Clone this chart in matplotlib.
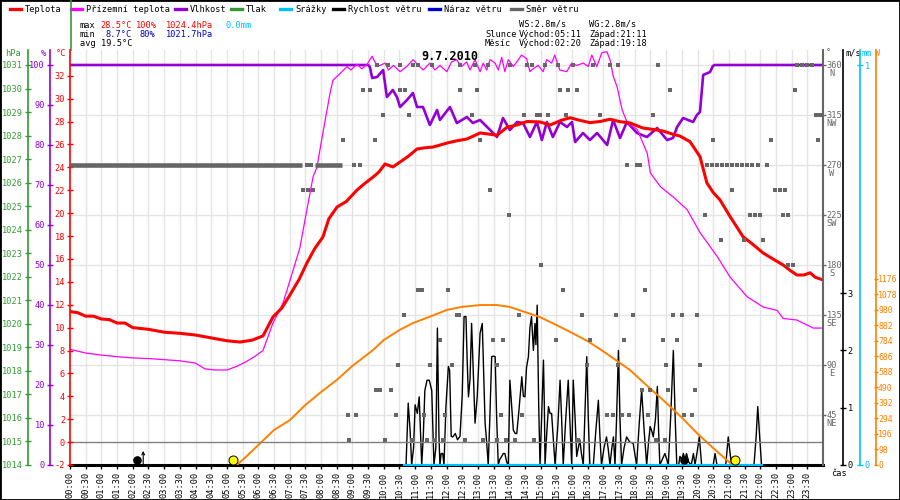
import matplotlib
matplotlib.use("Agg")
import matplotlib.pyplot as plt
import matplotlib.transforms as mtransforms
from matplotlib.lines import Line2D
from matplotlib.patches import Rectangle

plt.rcParams['font.family'] = ['DejaVu Sans Mono', 'DejaVu Sans']

# ---------------- data (hours, value) ----------------
temperature = [(0.0, 11.4), (0.25, 11.3), (0.5, 11.0), (0.75, 11.0), (1.0, 10.75), (1.25, 10.7),
               (1.5, 10.4), (1.75, 10.4), (2.0, 10.0), (2.5, 9.85), (3.0, 9.6), (3.5, 9.5),
               (4.0, 9.35), (4.5, 9.1), (5.0, 8.85), (5.42, 8.74), (5.8, 8.9), (6.15, 9.27),
               (6.47, 10.93), (6.75, 11.7), (7.01, 12.85), (7.3, 14.2), (7.55, 15.64), (7.8, 16.9),
               (8.06, 17.91), (8.25, 19.5), (8.51, 20.53), (8.8, 21.0), (9.15, 22.02), (9.4, 22.6),
               (9.66, 23.15), (9.85, 23.6), (10.04, 24.29), (10.29, 24.03), (10.52, 24.46),
               (10.8, 25.0), (11.06, 25.6), (11.3, 25.7), (11.57, 25.77), (12.02, 26.12),
               (12.3, 26.3), (12.65, 26.47), (13.07, 27.0), (13.35, 26.9), (13.61, 26.8),
               (13.93, 27.5), (14.25, 27.7), (14.57, 28.0), (14.98, 27.96), (15.3, 27.69),
               (15.65, 28.1), (15.94, 28.33), (16.25, 28.1), (16.57, 27.9), (16.9, 28.0),
               (17.21, 28.2), (17.5, 28.0), (17.85, 27.87), (18.26, 27.43), (18.6, 27.3),
               (18.9, 27.17), (19.2, 26.9), (19.44, 26.73), (19.76, 26.24), (20.08, 24.93),
               (20.3, 22.63), (20.5, 21.8), (20.72, 21.14), (21.04, 19.69), (21.25, 18.8),
               (21.45, 17.94), (21.75, 17.3), (22.09, 16.52), (22.4, 16.0), (22.73, 15.47),
               (22.95, 15.0), (23.17, 14.59), (23.4, 14.6), (23.59, 14.79), (23.75, 14.4),
               (24.0, 14.16)]

apparent_temp = [(0.0, 8.1), (0.5, 7.78), (1.0, 7.6), (1.5, 7.46), (2.0, 7.35), (2.5, 7.3),
                 (3.0, 7.2), (3.5, 7.1), (4.0, 6.9), (4.3, 6.4), (4.6, 6.3), (5.0, 6.3),
                 (5.3, 6.6), (5.6, 7.0), (5.9, 7.5), (6.15, 8.0), (6.47, 10.4), (6.79, 12.15),
                 (7.11, 15.0), (7.33, 17.0), (7.55, 20.3), (7.75, 23.2), (7.87, 24.0),
                 (8.06, 27.0), (8.29, 30.5), (8.38, 31.6), (8.61, 32.2), (8.83, 32.8),
                 (8.95, 32.5), (9.15, 33.0), (9.3, 32.6), (9.47, 33.0), (9.63, 33.7),
                 (9.79, 32.8), (9.88, 32.9), (10.04, 33.1), (10.15, 32.5), (10.31, 32.9),
                 (10.52, 32.35), (10.73, 32.8), (10.94, 33.4), (11.10, 32.9), (11.26, 32.5),
                 (11.47, 33.1), (11.63, 32.5), (11.79, 32.9), (12.01, 32.35), (12.16, 33.2),
                 (12.32, 33.4), (12.48, 32.8), (12.64, 33.2), (12.75, 32.5), (12.91, 33.4),
                 (13.07, 32.35), (13.17, 33.1), (13.28, 32.5), (13.39, 33.4), (13.55, 33.1),
                 (13.65, 32.5), (13.76, 33.6), (13.86, 32.35), (13.97, 33.4), (14.13, 32.8),
                 (14.29, 33.4), (14.39, 33.8), (14.55, 33.5), (14.66, 32.35), (14.76, 32.6),
                 (14.92, 32.9), (15.08, 32.35), (15.19, 33.4), (15.35, 33.1), (15.45, 33.8),
                 (15.61, 32.5), (15.83, 32.35), (15.99, 33.1), (16.15, 32.9), (16.36, 33.1),
                 (16.52, 32.8), (16.63, 33.8), (16.79, 32.8), (16.95, 34.0), (17.11, 34.1),
                 (17.21, 33.4), (17.32, 31.9), (17.44, 31.0), (17.6, 29.0), (17.76, 27.9),
                 (18.08, 27.3), (18.4, 25.2), (18.5, 23.5), (18.82, 22.3), (19.23, 21.4),
                 (19.67, 20.3), (20.08, 18.3), (20.63, 16.2), (21.04, 14.4), (21.58, 12.7),
                 (22.09, 11.8), (22.54, 11.5), (22.73, 10.8), (23.17, 10.66), (23.69, 9.96),
                 (24.0, 9.96)]

humidity = [(0.0, 100), (9.50, 100), (9.56, 99.5), (9.63, 96.75), (9.79, 97), (9.98, 98.75),
            (10.10, 92), (10.29, 93.75), (10.42, 92), (10.52, 89.5), (10.74, 91.25),
            (10.93, 93), (11.06, 89.5), (11.25, 89.5), (11.47, 85), (11.70, 88.75),
            (11.79, 86.25), (12.11, 89.5), (12.33, 85.5), (12.65, 87), (12.84, 85.5),
            (13.07, 86.25), (13.39, 83.75), (13.61, 82), (13.80, 86.75), (14.02, 83.75),
            (14.25, 85.75), (14.44, 85.5), (14.66, 82), (14.88, 85.75), (15.04, 81.25),
            (15.20, 85.75), (15.39, 82), (15.62, 85.75), (15.84, 84.5), (16.00, 85.75),
            (16.10, 80.75), (16.35, 83), (16.57, 81.25), (16.80, 83), (17.12, 80),
            (17.31, 86.25), (17.53, 81.75), (17.75, 85.75), (18.07, 83), (18.39, 82),
            (18.71, 84.25), (19.03, 81.25), (19.22, 81.75), (19.35, 84.5), (19.54, 86.75),
            (19.86, 85.75), (19.98, 87.5), (20.08, 88.25), (20.18, 97.5), (20.40, 98.25),
            (20.49, 99.75), (20.55, 100), (24.0, 100)]

wind_speed = [(10.65, 0), (10.71, 0), (10.78, 1.08), (10.84, 0.6), (10.89, 0), (10.95, 0.3),
              (11.00, 1.05), (11.07, 0.9), (11.13, 1.19), (11.21, 0), (11.26, 0.5), (11.31, 1.3),
              (11.38, 1.48), (11.45, 1.48), (11.53, 1.3), (11.60, 0), (11.66, 0.3), (11.71, 2.39),
              (11.76, 0.5), (11.79, 0), (11.83, 0.2), (11.88, 0.2), (11.92, 0), (11.98, 1.0),
              (12.06, 1.72), (12.10, 1.65), (12.15, 0.5), (12.20, 0.49), (12.28, 0.55),
              (12.35, 0.44), (12.43, 0.5), (12.50, 1.2), (12.56, 2.59), (12.62, 2.59),
              (12.66, 1.8), (12.70, 1.19), (12.75, 1.5), (12.80, 2.47), (12.86, 1.5),
              (12.91, 0.73), (12.98, 1.2), (13.07, 2.30), (13.14, 2.47), (13.19, 1.5),
              (13.23, 0.73), (13.28, 0.4), (13.33, 0), (13.38, 0.8), (13.44, 1.89), (13.50, 1.9),
              (13.55, 1.89), (13.60, 0.8), (13.65, 0), (13.70, 0.1), (13.76, 0.15), (13.81, 0.2),
              (13.86, 0.2), (13.92, 0.05), (13.97, 0), (14.02, 1.48), (14.08, 1.0), (14.13, 0.61),
              (14.19, 0.55), (14.24, 0.55), (14.30, 0.9), (14.40, 1.54), (14.45, 1.2),
              (14.50, 1.19), (14.55, 1.7), (14.61, 1.89), (14.66, 2.4), (14.71, 2.59),
              (14.77, 2.0), (14.82, 2.47), (14.85, 2.1), (14.89, 2.79), (14.94, 1.0), (14.98, 0),
              (15.03, 0.8), (15.09, 1.83), (15.12, 1.0), (15.14, 0), (15.20, 0.6), (15.25, 1.02),
              (15.30, 0.9), (15.35, 0.9), (15.40, 0.5), (15.46, 0), (15.55, 0.7), (15.62, 1.48),
              (15.67, 0.8), (15.72, 0), (15.80, 0.8), (15.88, 1.48), (15.93, 0.8), (15.99, 0),
              (16.04, 1.48), (16.10, 0.8), (16.15, 0.15), (16.20, 0.3), (16.25, 0.44),
              (16.30, 0.2), (16.36, 0), (16.42, 1.0), (16.47, 1.89), (16.52, 0.8), (16.57, 0),
              (16.68, 0), (16.76, 0.6), (16.84, 1.13), (16.89, 0.5), (16.94, 0), (17.02, 0.3),
              (17.10, 0.49), (17.15, 0.3), (17.21, 0), (17.27, 0.3), (17.32, 0.49), (17.37, 0),
              (17.42, 0.8), (17.48, 2.0), (17.53, 0.8), (17.58, 0), (17.66, 0.3), (17.74, 0.49),
              (17.84, 0.4), (17.95, 0.38), (18.00, 0.2), (18.06, 0), (18.14, 0.7), (18.22, 1.31),
              (18.30, 0.6), (18.38, 0), (18.44, 0.4), (18.49, 0.67), (18.54, 0.6), (18.59, 0.49),
              (18.66, 0.8), (18.72, 1.37), (18.76, 0.6), (18.80, 0), (18.88, 0.1), (18.96, 0.2),
              (19.02, 0.1), (19.07, 0), (19.15, 0.9), (19.23, 2.0), (19.29, 0.8), (19.34, 0),
              (19.40, 0), (19.44, 0.15), (19.50, 0.1), (19.55, 0.2), (19.60, 0.1), (19.65, 0.2),
              (19.72, 0.05), (19.80, 0), (19.87, 0.2), (19.92, 0), (19.98, 0.2), (20.06, 0.49),
              (20.13, 0), (20.50, 0), (20.56, 0.2), (20.62, 0), (20.90, 0), (20.98, 0.49),
              (21.04, 0.2), (21.09, 0), (21.80, 0), (21.87, 0.5), (21.92, 1.02), (21.98, 0.5),
              (22.04, 0)]

solar = [(5.32, 0), (5.6, 50), (6.06, 137), (6.5, 221), (7.01, 284), (7.5, 379), (8.0, 461),
         (8.5, 537), (9.0, 626), (9.66, 727), (10.0, 790), (10.5, 853), (10.93, 897),
         (11.5, 940), (12.01, 980), (12.5, 1000), (13.07, 1011), (13.6, 1011), (14.0, 1000),
         (14.5, 967), (14.98, 935), (15.5, 885), (16.0, 835), (16.5, 783), (17.0, 718),
         (17.5, 649), (17.85, 600), (18.4, 500), (18.9, 411), (19.5, 300), (19.98, 202),
         (20.5, 107), (21.04, 13), (21.15, 0)]

rain = [(10.65, 0.0), (22.05, 0.0)]

# wind direction: individual readings per direction row
dir_rows = {
    360.0: [9.79, 10.14, 10.52, 10.93, 11.09, 11.54, 12.43, 12.91, 13.32, 14.02, 14.57, 14.73,
            15.14, 15.55, 16.03, 16.67, 17.21, 17.47, 18.74, 23.17, 23.33, 23.49, 23.65],
    337.5: [9.34, 9.56, 10.52, 10.68, 12.43, 12.97, 15.62, 15.87, 16.16, 19.12, 23.11],
    315.0: [9.98, 10.80, 12.81, 14.47, 14.88, 14.98, 15.24, 15.81, 16.89, 18.58, 23.78, 23.90],
    292.5: [8.70, 9.72, 13.07, 20.49, 22.34, 23.84],
    270.0: [7.55, 7.68, 9.05, 9.24, 17.75, 18.07, 18.17, 20.30, 20.46, 20.62, 20.78, 20.94,
            21.10, 21.26, 21.42, 21.58, 21.74, 21.93, 22.22],
    247.5: [7.43, 7.59, 7.75, 13.39, 21.10, 22.47, 22.63, 22.79],
    225.0: [13.99, 20.24, 21.67, 21.83, 21.99, 22.73, 22.88],
    202.5: [20.75, 21.48, 22.09],
    180.0: [15.01, 22.88, 23.04],
    157.5: [11.09, 11.22, 12.05, 15.71, 18.33],
    135.0: [10.65, 12.33, 12.40, 14.31, 16.32, 17.40, 17.94, 19.22, 19.51, 19.98],
    112.5: [11.79, 13.48, 13.80, 15.49, 16.57, 17.66, 18.90, 19.35],
    90.0: [10.45, 11.47, 12.18, 13.61, 16.48, 17.47, 19.00, 20.08],
    67.5: [9.75, 9.88, 10.23, 18.23, 18.49, 19.06, 19.92],
    45.0: [8.86, 9.12, 10.39, 11.28, 11.95, 13.74, 14.41, 17.12, 17.31, 17.59, 17.82, 18.42,
           19.57, 19.82],
    22.5: [8.89, 10.04, 10.90, 11.38, 11.63, 11.89, 12.59, 13.16, 13.61, 13.90, 14.18, 14.79,
           16.19, 18.68, 18.96],
}
# continuous runs of constant direction (start h, end h, degrees)
dir_runs = [(0.0, 7.39, 270.0), (7.81, 8.67, 270.0)]

sun_events = ["05:11", "21:11"]
moon_events = ["02:20", "19:18"]

time_labels = [f"{h:02d}:{m:02d}" for h in range(24) for m in (0, 30)]
temp_ticks = list(range(-2, 33, 2))
hum_ticks = list(range(0, 101, 10))
pres_ticks = list(range(1014, 1032))
dir_ticks = [45, 90, 135, 180, 225, 270, 315, 360]
dir_names = ['NE', 'E', 'SE', 'S', 'SW', 'W', 'NW', 'N']
wind_ticks = [0, 1, 2, 3]
rain_ticks = [0, 1]
solar_ticks = list(range(0, 1177, 98))

# ---------------- styling ----------------
RED = '#ff0000'
MAG = '#ff00ff'
PUR = '#9400d3'
GRN = '#339933'
CYA = '#00bfff'
BLU = '#0000cc'
GRY = '#666666'
ORG = '#ff8000'
GRID = '#e4e4e4'
FS = 6.2

W, H = 900, 500
fig = plt.figure(figsize=(9, 5), dpi=100)
fig.patch.set_facecolor('white')

def fxp(px):
    return px / W

def fyp(py):
    return 1 - py / H

L, R, T, B = 70, 823, 50, 465
rect = [fxp(L), fyp(B), fxp(R) - fxp(L), fyp(T) - fyp(B)]

PX = 0.72  # points per pixel

def hm(s):
    h, m = s.split(':')
    return int(h) + int(m) / 60.0

def unzip(pts):
    return [p[0] for p in pts], [p[1] for p in pts]

# background axes: grid + time axis
ax_bg = fig.add_axes(rect)
ax_bg.set_xlim(0, 24)
ax_bg.set_ylim(0, 373.5)
for s in ['top', 'left', 'right']:
    ax_bg.spines[s].set_visible(False)
ax_bg.spines['bottom'].set_linewidth(2.2)
ax_bg.spines['bottom'].set_color('black')
ax_bg.set_yticks([])
xt = [i * 0.5 for i in range(48)]
ax_bg.set_xticks(xt)
ax_bg.set_xticklabels(time_labels, rotation=90, fontsize=FS)
ax_bg.tick_params(axis='x', direction='out', length=3, width=1, pad=2)
for x in xt[1:]:
    ax_bg.axvline(x, color=GRID, lw=1, zorder=0)
for d in dir_ticks:
    ax_bg.axhline(d, color=GRID, lw=1, zorder=0)

def make_twin(z):
    a = ax_bg.twinx()
    a.set_zorder(z)
    a.patch.set_visible(False)
    for s in a.spines.values():
        s.set_visible(False)
    a.tick_params(axis='y', which='both', left=False, right=False,
                  labelleft=False, labelright=False)
    return a

def left_axis(a, color, outward, ticks, labels):
    a.yaxis.set_ticks_position('left')
    sp = a.spines['left']
    sp.set_visible(True)
    sp.set_color(color)
    sp.set_linewidth(1.2)
    sp.set_position(('outward', outward))
    a.set_yticks(ticks)
    a.set_yticklabels(labels)
    a.tick_params(axis='y', left=True, labelleft=True, right=False, labelright=False,
                  direction='inout', length=5, width=1, color=color,
                  labelcolor=color, labelsize=FS, pad=1)

def right_axis(a, color, outward, ticks, labels, tickdir='inout', length=5, pad=1, size=FS):
    a.yaxis.set_ticks_position('right')
    sp = a.spines['right']
    sp.set_visible(True)
    sp.set_color(color)
    sp.set_linewidth(1.2)
    sp.set_position(('outward', outward))
    a.set_yticks(ticks)
    a.set_yticklabels(labels)
    a.tick_params(axis='y', right=True, labelright=True, left=False, labelleft=False,
                  direction=tickdir, length=length, width=1, color=color,
                  labelcolor=color, labelsize=size, pad=pad)

# pressure (no data drawn)
ax_p = make_twin(1)
ax_p.set_ylim(1014, 1014 + 415 / 23.53)
left_axis(ax_p, GRN, 42 * PX, pres_ticks, [str(v) for v in pres_ticks])

# wind speed
ax_w = make_twin(2)
ax_w.set_ylim(0, 415 / 57.3)
right_axis(ax_w, 'black', 20 * PX, wind_ticks, [str(v) for v in wind_ticks])
wt, wv = unzip(wind_speed)
ax_w.plot(wt, wv, color='black', lw=1.0)

# solar radiation
ax_s = make_twin(3)
ax_s.set_ylim(0, 415 / 0.1582)
right_axis(ax_s, ORG, 53 * PX, solar_ticks, [str(v) for v in solar_ticks],
           length=3, pad=0, size=5.9)
st, sv = unzip(solar)
ax_s.plot(st, sv, color=ORG, lw=1.4)

# rain
ax_r = make_twin(4)
ax_r.set_ylim(0, 415 / 400)
right_axis(ax_r, CYA, 37 * PX, rain_ticks, [str(v) for v in rain_ticks])
rt, rv = unzip(rain)
ax_r.plot(rt, rv, color=CYA, lw=1.5, clip_on=False)

# humidity
ax_h = make_twin(5)
ax_h.set_ylim(0, 103.75)
left_axis(ax_h, PUR, 20 * PX, hum_ticks, [str(v) for v in hum_ticks])
ht, hv = unzip(humidity)
ax_h.plot(ht, hv, color=PUR, lw=1.9)

# temperature + apparent temperature
ax_t = make_twin(6)
ax_t.set_ylim(-2, -2 + 415 / 11.45)
left_axis(ax_t, RED, 0, temp_ticks, [str(v) for v in temp_ticks])
ax_t.axhline(0, color='#808080', lw=1.0, zorder=1)
at, av = unzip(apparent_temp)
ax_t.plot(at, av, color=MAG, lw=0.9, zorder=2)
tt, tv = unzip(temperature)
ax_t.plot(tt, tv, color=RED, lw=2.2, zorder=3)

# wind direction
ax_d = make_twin(7)
ax_d.set_ylim(0, 373.5)
right_axis(ax_d, GRY, 0, dir_ticks, [str(v) for v in dir_ticks], tickdir='out', length=2, pad=0.5)
ax_d.spines['right'].set_linewidth(1.5)
for (t0, t1, deg) in dir_runs:
    ax_d.hlines(deg, t0, t1, color=GRY, lw=3.3, capstyle='butt')
for deg, times in dir_rows.items():
    ax_d.plot(times, [deg] * len(times), linestyle='none', marker='s',
              markersize=3.4, color=GRY, markeredgewidth=0)
for deg, name in zip(dir_ticks, dir_names):
    ax_d.annotate(name, xy=(1, deg), xycoords=ax_d.get_yaxis_transform(),
                  xytext=(9 * PX, -9 * PX), textcoords='offset points',
                  ha='center', va='center', color=GRY, fontsize=FS, annotation_clip=False)

# sun / moon events
ytr = ax_d.get_xaxis_transform()
for s in sun_events:
    ax_d.plot([hm(s)], [0.012], transform=ytr, marker='o', markersize=6.5,
              markerfacecolor='#ffff00', markeredgecolor='black', markeredgewidth=0.7,
              clip_on=False)
for i, s in enumerate(moon_events):
    off = -6 if i == 0 else 8
    shift = mtransforms.ScaledTranslation(off / 100.0, 0, fig.dpi_scale_trans)
    ax_d.plot([hm(s)], [0.012], transform=ytr + shift, marker='o', markersize=5.2,
              color='black', linestyle='none', clip_on=False)
    if i == 0:
        ax_d.annotate('', xy=(hm(s), 0.034), xycoords=ytr,
                      xytext=(hm(s), 0.0), textcoords=ytr, annotation_clip=False,
                      arrowprops=dict(arrowstyle='->', lw=0.8, color='black',
                                      shrinkA=0, shrinkB=0, mutation_scale=5))

# ---------------- texts ----------------
def ftext(x, y, s, color='black', **kw):
    kw.setdefault('fontsize', FS)
    kw.setdefault('ha', 'left')
    kw.setdefault('va', 'center')
    fig.text(fxp(x), fyp(y), s, color=color, **kw)

legend_items = [(10, 'Teplota', RED), (71, 'Přízemní teplota', MAG), (175, 'Vlhkost', PUR),
                (231, 'Tlak', GRN), (280, 'Srážky', CYA), (333, 'Rychlost větru', 'black'),
                (429, 'Náraz větru', BLU), (511, 'Směr větru', GRY)]
for x0, label, c in legend_items:
    fig.add_artist(Line2D([fxp(x0), fxp(x0 + 11)], [fyp(9), fyp(9)],
                          transform=fig.transFigure, color=c, lw=2.4))
    ftext(x0 + 15, 9, label)

ftext(80, 25, 'max')
ftext(100, 25, '28.5°C', RED)
ftext(136, 25, '100%', RED)
ftext(166, 25, '1024.4hPa', RED)
ftext(226, 25, '0.0mm', CYA)
ftext(80, 34, 'min')
ftext(105, 34, '8.7°C', BLU)
ftext(140, 34, '80%', BLU)
ftext(166, 34, '1021.7hPa', BLU)
ftext(80, 44, 'avg 19.5°C')

ftext(519, 24, 'WS:2.8m/s')
ftext(589, 24, 'WG:2.8m/s')
ftext(485, 34, 'Slunce')
ftext(519, 34, 'Východ:05:11')
ftext(589, 34, 'Západ:21:11')
ftext(485, 44, 'Měsíc')
ftext(519, 44, 'Východ:02:20')
ftext(589, 44, 'Západ:19:18')

ftext(450, 57, '9.7.2010', fontsize=8.5, fontweight='bold', ha='center', zorder=20)

ftext(5, 54, 'hPa', GRN)
ftext(41, 54, '%', PUR)
ftext(56, 54, '°C', RED)
ftext(826, 53, '°', GRY)
ftext(845, 53, 'm/s', 'black')
ftext(861, 53, 'mm', CYA)
ftext(875, 53, 'W', ORG)
ftext(831, 473, 'čas')

fig.add_artist(Line2D([fxp(70.5), fxp(70.5)], [fyp(0), fyp(50)],
                      transform=fig.transFigure, color=GRN, lw=1.2))
fig.add_artist(Rectangle((0, 0), 1, 1, transform=fig.transFigure, fill=False,
                         edgecolor='black', lw=2))

fig.savefig('out.png', dpi=100)
